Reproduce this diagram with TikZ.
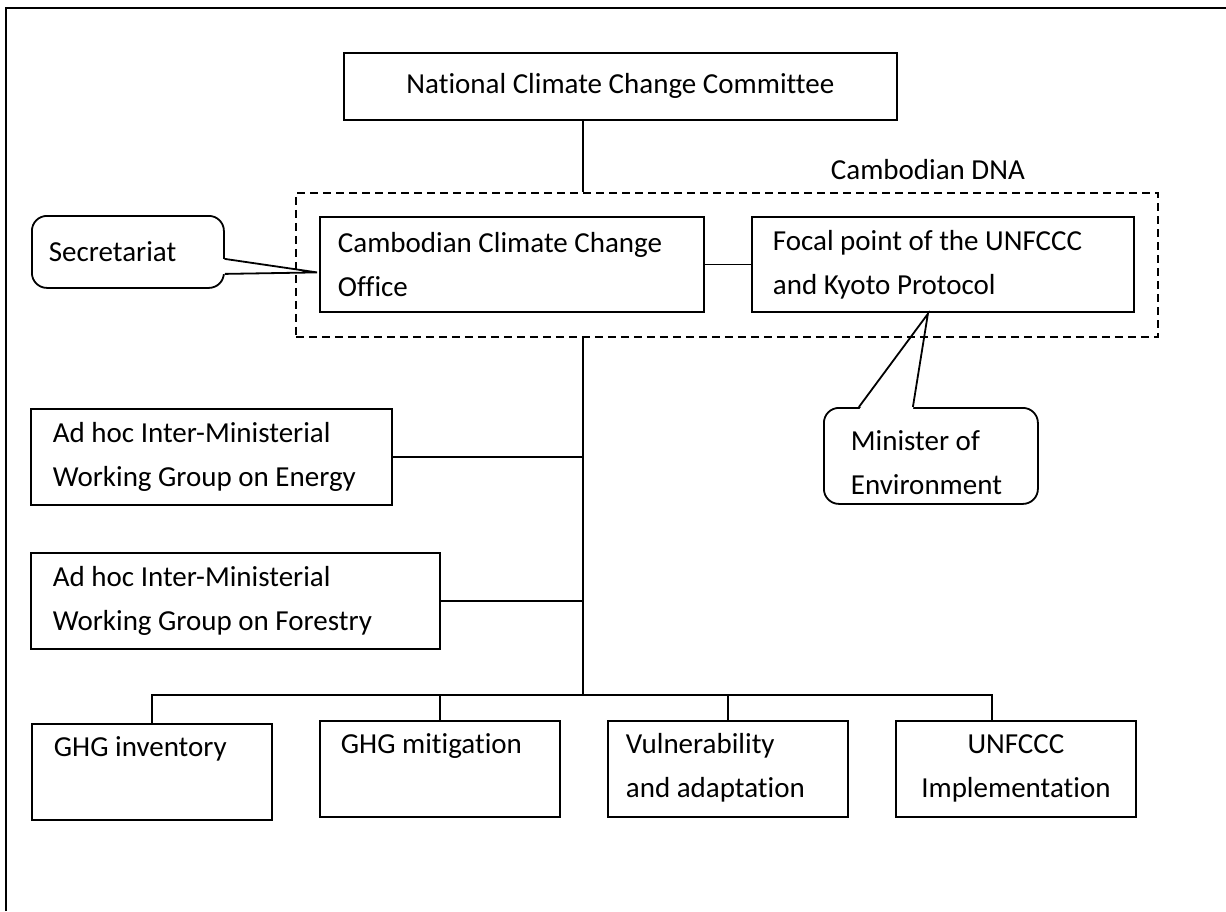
\documentclass[tikz,border=0pt]{standalone}
\usepackage{fontspec}
\setmainfont{Carlito}[Ligatures=NoCommon]
\usetikzlibrary{calc,positioning}

\begin{document}
\begin{tikzpicture}[
    x=1pt, y=-1pt,
    % GLOBAL CFG
    font=\fontsize{29}{44}\selectfont,
    line width=1.8pt,
    % Styles
    org/.style={% For the plain boxes
        rectangle,
        draw,
        anchor=north west,
        inner xsep=0pt,
        inner ysep=0pt,
        align=flush left,
        },
    unit/.style={% For the four units at the bottom
        org,
        minimum width=240pt,
        minimum height=96pt,
        text height=33pt,
        text depth=63pt,
        },
    note/.style={% For the callouts
        rectangle,
        rounded corners=15pt,
        draw,
        fill=white,
        anchor=north west,
        inner xsep=0pt,
        inner ysep=0pt,
        align=flush left,
        },
    group/.style={% For the dashed DNA frame
        rectangle,
        draw,
        dash pattern=on 8pt off 5pt,
        anchor=north west,
        inner sep=0pt,
        },
    mylabel/.style={% free text
        anchor=base west,
        inner sep=0pt,
        },
    ]

% page frame (only top and left are seen)
\useasboundingbox (0,0) rectangle (1226,911);
\draw [line width=2.5pt] (6,911) -- (6,8) -- (1226,8);

% Draw the committee
\node [org, align=flush center, minimum width=553pt, minimum height=67pt] (nccc) at (343,52) {National Climate Change Committee};

% Draw the two offices inside the DNA
\node [org, minimum width=384pt, minimum height=95pt, text width=348pt] (ccco) at (319,216) {Cambodian Climate Change\\Office};
\node [org, minimum width=382pt, minimum height=95pt, text width=340pt] (focal) at (751,216) {Focal point of the UNFCCC\\and Kyoto Protocol};

% Callouts named sec and minister
\node [note, minimum width=192pt, minimum height=72pt, text width=158pt] (sec) at (31,215) {Secretariat};
\node [note, minimum width=214pt, minimum height=96pt, text width=160pt, text height=34pt, text depth=44pt] (minister) at (823,407) {Minister of\\Environment};

% pointers of the callouts
\coordinate (sectip) at ($(ccco.west)+(-2,8)$);
\fill [white] ($(sec.east)+(-3,7)$) -- (sectip) -- ($(sec.east)+(-3,22)$) -- cycle;
\draw ($(sec.east)+(0,7)$) -- (sectip) -- ($(sec.east)+(0,22)$);
\coordinate (mintip) at ($(focal.south)+(-15,1)$);
\fill [white] ($(minister.north)+(-72,3)$) -- (mintip) -- ($(minister.north)+(-18,3)$) -- cycle;
\draw ($(minister.north)+(-72,0)$) -- (mintip) -- ($(minister.north)+(-18,0)$);

% the DNA frame and its name
\node [group, minimum width=862pt, minimum height=144pt] (dna) at (295,192) {};
\node [mylabel] (dnaname) at (830,179) {Cambodian DNA};

% Working groups
\node [org, minimum width=361pt, minimum height=96pt, text width=317pt] (energy) at (30,408) {Ad hoc Inter-Ministerial\\Working Group on Energy};
\node [org, minimum width=409pt, minimum height=96pt, text width=365pt] (forestry) at (30,552) {Ad hoc Inter-Ministerial\\Working Group on Forestry};

% Units at the bottom
\node [unit, text width=196pt] (inv) at (31,723) {GHG inventory};
\node [unit, text width=198pt] (mit) at (319,720) {GHG mitigation};
\node [unit, text width=204pt] (vul) at (607,720) {Vulnerability\\and adaptation};
\node [unit, align=flush center, text width=220pt] (imp) at (895,720) {UNFCCC\\Implementation};

% Start connecting all.
\coordinate (bus) at (583,695);
\coordinate (impdrop) at ($(imp.north)+(-24,0)$);
\draw (nccc.south -| bus) -- (dna.north -| bus);
\draw (ccco.east) -- (focal.west);
\draw (dna.south -| bus) -- (bus);
\draw (energy.east) -- (energy.east -| bus);
\draw (forestry.east) -- (forestry.east -| bus);
\draw (inv.north) |- (impdrop |- bus) -- (impdrop);
\draw (mit.north) -- (mit.north |- bus);
\draw (vul.north) -- (vul.north |- bus);

\end{tikzpicture}
\end{document}
